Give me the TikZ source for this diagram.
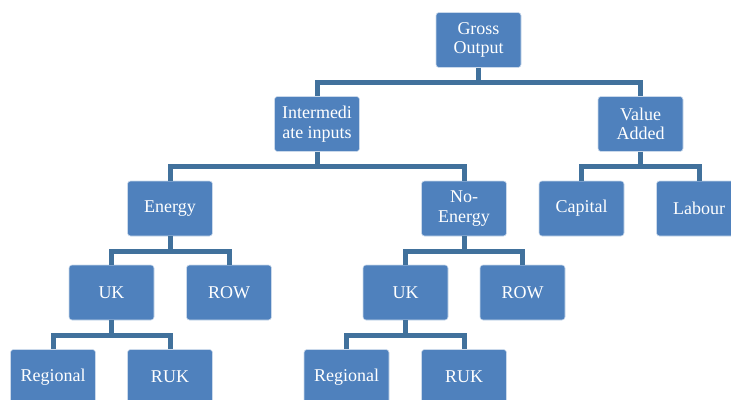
\documentclass[tikz,border=0pt]{standalone}
\usepackage{fontspec}
\setmainfont{Liberation Serif}
\usepackage{tikz}
\usetikzlibrary{arrows.meta,positioning,calc}

\definecolor{boxblue}{HTML}{4F81BD}
\definecolor{lineblue}{HTML}{41719C}

\begin{document}
\begin{tikzpicture}[
    x=1pt, y=1pt,
    box/.style={draw=white!70!boxblue, line width=0.6pt, fill=boxblue, rounded corners=3pt,
                minimum width=85pt, minimum height=55pt, inner sep=2pt,
                align=center, text=white, font=\fontsize{18}{19.5}\selectfont},
    conn/.style={draw=lineblue, line width=5pt},
]
\useasboundingbox (0,0) rectangle (731,-399);
\clip (0,0) rectangle (731,-399);

% Top levels
\node[box] (gross) at (478.5,-40) {Gross\\Output};
\node[box] (inter) at (317,-124) {Intermedi\\ate inputs};
\node[box] (value) at (640.5,-124) {Value\\Added};

% Energy branch
\node[box] (energy) at (170,-208.5) {Energy};
\node[box] (uk) at (111.5,-292.5) {UK};
\node[box] (row) at (229,-292.5) {ROW};
\node[box] (reg) at (53,-377) {Regional};
\node[box] (ruk) at (170,-377) {RUK};

% No-Energy branch
\node[box] (noenergy) at (464,-208.5) {No-\\Energy};
\node[box] (uktwo) at (405.5,-292.5) {UK};
\node[box] (rowtwo) at (522.5,-292.5) {ROW};
\node[box] (regtwo) at (346.5,-377) {Regional};
\node[box] (ruktwo) at (464,-377) {RUK};

% Value added branch
\node[box] (capital) at (581.5,-208.5) {Capital};
\node[box] (labour) at (699,-208.5) {Labour};

% Connectors
\draw[conn] (gross.south) -- ++(0,-15) -| (inter.north);
\draw[conn] (gross.south) -- ++(0,-15) -| (value.north);
\draw[conn] (inter.south) -- ++(0,-15) -| (energy.north);
\draw[conn] (inter.south) -- ++(0,-15) -| (noenergy.north);
\draw[conn] (value.south) -- ++(0,-15) -| (capital.north);
\draw[conn] (value.south) -- ++(0,-15) -| (labour.north);
\draw[conn] (energy.south) -- ++(0,-15) -| (uk.north);
\draw[conn] (energy.south) -- ++(0,-15) -| (row.north);
\draw[conn] (noenergy.south) -- ++(0,-15) -| (uktwo.north);
\draw[conn] (noenergy.south) -- ++(0,-15) -| (rowtwo.north);
\draw[conn] (uk.south) -- ++(0,-15) -| (reg.north);
\draw[conn] (uk.south) -- ++(0,-15) -| (ruk.north);
\draw[conn] (uktwo.south) -- ++(0,-15) -| (regtwo.north);
\draw[conn] (uktwo.south) -- ++(0,-15) -| (ruktwo.north);
\end{tikzpicture}
\end{document}
